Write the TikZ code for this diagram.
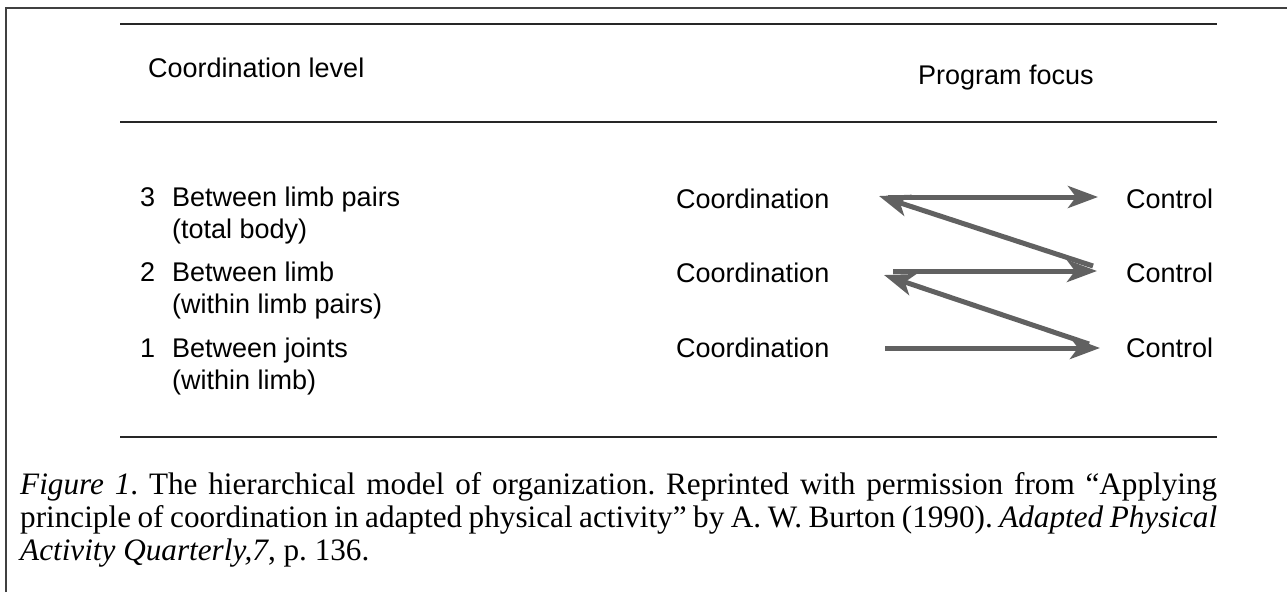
\documentclass[tikz,border=0pt]{standalone}
\usepackage{fontspec}
\setmainfont{Liberation Serif}
\newfontfamily\labelfont{Liberation Sans}
\usetikzlibrary{arrows.meta}
\begin{document}
\frenchspacing
\begin{tikzpicture}[x=1pt,y=-1pt,
  lbl/.style={font=\labelfont\fontsize{27}{32}\selectfont, anchor=base west, inner sep=0pt},
  captext/.style={font=\fontsize{31.2}{33}\selectfont, anchor=base west, inner sep=0pt},
  rulebar/.style={line width=2pt, black!85},
  frameline/.style={line width=1.3pt, black!75},
  zig/.style={line width=5pt, black!62, line cap=butt,
    -{Stealth[length=30pt, width=22pt, inset=8pt]}},
]
\useasboundingbox (0,0) rectangle (1287,592);
% partial frame
\draw[frameline] (6,592) -- (6,8) -- (1287,8);
% table rules
\draw[rulebar] (120,24) -- (1217,24);
\draw[rulebar] (120,122) -- (1217,122);
\draw[rulebar] (120,437) -- (1217,437);
% headers
\node[lbl] (hl) at (148,77) {Coordination level};
\node[lbl] (hr) at (918,84) {Program focus};
% coordination levels
\node[lbl] (n3) at (140,206) {3};
\node[lbl] (l3) at (172,206) {Between limb pairs};
\node[lbl] (s3) at (172,238) {(total body)};
\node[lbl] (n2) at (140,281) {2};
\node[lbl] (l2) at (172,281) {Between limb};
\node[lbl] (s2) at (172,313) {(within limb pairs)};
\node[lbl] (n1) at (140,357) {1};
\node[lbl] (l1) at (172,357) {Between joints};
\node[lbl] (s1) at (172,389) {(within limb)};
% program focus
\node[lbl] (c3) at (676,208) {Coordination};
\node[lbl] (c2) at (676,282) {Coordination};
\node[lbl] (c1) at (676,357) {Coordination};
\node[lbl] (k3) at (1126,208) {Control};
\node[lbl] (k2) at (1126,282) {Control};
\node[lbl] (k1) at (1126,357) {Control};
% zigzag path between the two foci
\coordinate (c1e) at (885,348);
\coordinate (k1w) at (1100,348);
\coordinate (k1d) at (1089,344);
\coordinate (c2e) at (884,275);
\coordinate (c2s) at (893,271);
\coordinate (k2w) at (1097,271);
\coordinate (k2d) at (1093,266);
\coordinate (c3e) at (879,196);
\coordinate (c3s) at (888,197);
\coordinate (k3w) at (1098,197);
\foreach \a/\b in {c1e/k1w, k1d/c2e, c2s/k2w, k2d/c3e, c3s/k3w}
  \draw[zig] (\a) -- (\b);
% caption
\node[captext] (cap1) at (20,494) {\makebox[1197pt][s]{\textit{Figure 1}. The hierarchical model of organization. Reprinted with permission from “Applying}};
\node[captext] (cap2) at (20,527) {\makebox[1197pt][s]{principle of coordination in adapted physical activity” by A. W. Burton (1990). \textit{Adapted Physical}}};
\node[captext] (cap3) at (20,560) {\textit{Activity Quarterly,7}, p. 136.};
\end{tikzpicture}
\end{document}
